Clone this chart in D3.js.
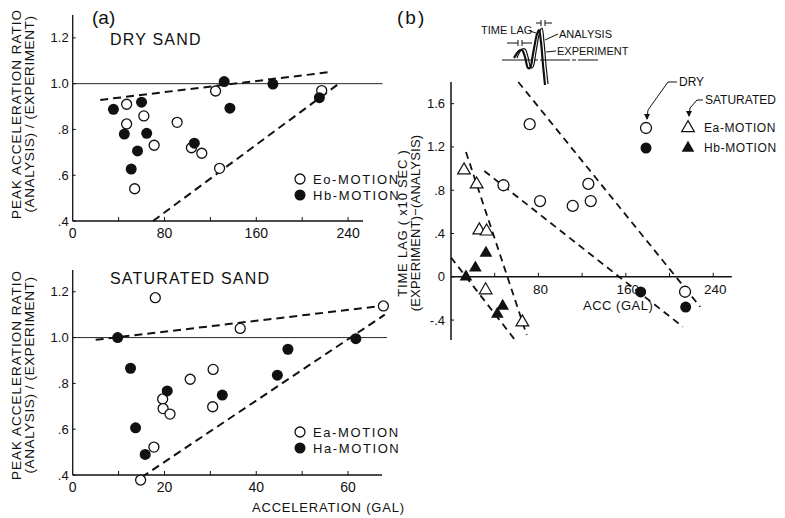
<!DOCTYPE html>
<html><head><meta charset="utf-8">
<script src="https://cdn.jsdelivr.net/npm/d3@7"></script>
<style>body{margin:0;background:#fff}svg{display:block}text{font-family:"Liberation Sans",Arial,sans-serif;fill:#111}</style>
</head><body>
<script>
// ---------- DATA ----------
// Panel (a) top: dry sand, acceleration (gal) vs peak acceleration ratio
const dryEa = [[47,0.91],[47,0.824],[62,0.859],[71,0.731],[54,0.541],[91,0.831],[103.5,0.72],[112.5,0.696],[124.5,0.968],[128,0.63],[217,0.97]];
const dryHb = [[35.5,0.888],[45,0.78],[60,0.919],[64.5,0.783],[56.5,0.706],[51,0.627],[106,0.74],[132,1.009],[137,0.893],[174.5,0.998],[215,0.939]];
const dryBounds = [[[24,0.929],[223,1.05]],[[70,0.4],[232,1.0]]];
const dryXTicks = [0,80,160,240];
const dryXMinor = [40,120,200];
// Panel (a) bottom: saturated sand
const satEa = [[18,1.174],[67.7,1.138],[36.5,1.04],[30.6,0.861],[25.6,0.818],[19.6,0.732],[19.7,0.69],[21.2,0.666],[30.5,0.698],[17.7,0.522],[14.8,0.378]];
const satHa = [[9.8,1.0],[12.6,0.866],[20.6,0.767],[32.6,0.749],[13.7,0.606],[15.8,0.49],[44.6,0.836],[46.9,0.949],[61.7,0.995]];
const satBounds = [[[5,0.99],[66,1.135]],[[15,0.39],[68,1.1]]];
const satXTicks = [0,20,40,60];
const satXMinor = [10,30,50];
const ratioTicks = [0.4,0.6,0.8,1.0,1.2];
const ratioLabels = [".4",".6",".8","1.0","1.2"];
// Panel (b): time lag vs acc
const lagDryEa = [[72,1.41],[48,0.846],[81.5,0.70],[111.4,0.655],[125.7,0.858],[127.9,0.70],[214.2,-0.138]];
const lagDryHb = [[173.6,-0.14],[214.8,-0.28]];
const lagSatEa = [[11.9,0.985],[23.5,0.855],[25.9,0.43],[32.6,0.42],[31.7,-0.123],[65.3,-0.42]];
const lagSatHb = [[32,0.22],[22.3,0.083],[13.7,0],[47.3,-0.27],[42.4,-0.344]];
const lagTrends = [[[61.6,1.80],[228,-0.277]],[[30.5,0.978],[212.1,-0.461]],[[13.7,1.153],[69.3,-0.538]],[[0,0.179],[58.6,-0.584]]];
const lagYTicks = [-0.4,0,0.4,0.8,1.2,1.6];
const lagYLabels = ["-.4","0",".4",".8","1.2","1.6"];
const lagXTicks = [80,160,240];
const lagXMinor = [40,120,200];
// Inset sketch (local units)
const waveExp = [[14,-2],[19,-9],[22,-10],[25,-3],[28,8],[30,8],[33,-6],[37,-26],[39,-30],[41,-18],[43,5],[45,25]];
const waveAna = [[17,-2],[22,-11],[25,-11],[28,-3],[31,8],[33,7],[36,-8],[40,-29],[42,-32],[44,-18],[46,5],[48,24]];

const W=785,H=518;
const svg=d3.select("body").append("svg").attr("width",W).attr("height",H);
const ink="#111";

function scatterPanel(o){
  const g=svg.append("g");
  const x=d3.scaleLinear().domain(o.xd).range(o.xr);
  const y=d3.scaleLinear().domain(o.yd).range(o.yr);
  g.append("line").attr("x1",x(o.xd[0])).attr("x2",x(o.xd[1])).attr("y1",y(o.yd[0])).attr("y2",y(o.yd[0])).attr("stroke",ink).attr("stroke-width",1.3);
  g.append("line").attr("x1",x(o.xd[0])).attr("x2",x(o.xd[0])).attr("y1",y(o.yd[0])).attr("y2",y(o.yd[1])).attr("stroke",ink).attr("stroke-width",1.3);
  g.append("line").attr("x1",x(o.xd[0])).attr("x2",x(o.refEnd)).attr("y1",y(1)).attr("y2",y(1)).attr("stroke",ink).attr("stroke-width",0.9);
  o.xTicks.concat(o.xMinor).forEach(t=>{ if(t===0) return;
    g.append("line").attr("x1",x(t)).attr("x2",x(t)).attr("y1",y(o.yd[0])).attr("y2",y(o.yd[0])-4).attr("stroke",ink).attr("stroke-width",1);});
  o.xTicks.forEach(t=>g.append("text").attr("x",x(t)).attr("y",y(o.yd[0])+17).attr("text-anchor","middle").attr("font-size",14).text(t));
  ratioTicks.forEach((t,i)=>{
    g.append("line").attr("x1",x(o.xd[0])).attr("x2",x(o.xd[0])+3).attr("y1",y(t)).attr("y2",y(t)).attr("stroke",ink);
    g.append("text").attr("x",x(o.xd[0])-4).attr("y",y(t)).attr("dy","0.35em").attr("text-anchor","end").attr("font-size",13).text(ratioLabels[i]);
  });
  const line=d3.line().x(d=>x(d[0])).y(d=>y(d[1]));
  o.bounds.forEach(b=>g.append("path").attr("d",line(b)).attr("fill","none").attr("stroke",ink).attr("stroke-width",2).attr("stroke-dasharray","8,5"));
  g.selectAll(null).data(o.open).join("circle").attr("cx",d=>x(d[0])).attr("cy",d=>y(d[1])).attr("r",5).attr("fill","#fff").attr("stroke",ink).attr("stroke-width",1.3);
  g.selectAll(null).data(o.filled).join("circle").attr("cx",d=>x(d[0])).attr("cy",d=>y(d[1])).attr("r",5.5).attr("fill",ink);
  g.append("circle").attr("cx",o.leg[0]).attr("cy",o.leg[1]).attr("r",5).attr("fill","#fff").attr("stroke",ink).attr("stroke-width",1.3);
  g.append("circle").attr("cx",o.leg[0]).attr("cy",o.leg[1]+16).attr("r",5.5).attr("fill",ink);
  g.append("text").attr("x",o.leg[0]+13).attr("y",o.leg[1]).attr("dy","0.35em").attr("font-size",13).attr("letter-spacing",1.6).text(o.legNames[0]);
  g.append("text").attr("x",o.leg[0]+13).attr("y",o.leg[1]+16).attr("dy","0.35em").attr("font-size",13).attr("letter-spacing",1.6).text(o.legNames[1]);
  g.append("text").attr("x",o.title[0]).attr("y",o.title[1]).attr("font-size",16).attr("letter-spacing",1.2).text(o.title[2]);
  const cy=o.ytitleY;
  g.append("text").attr("transform",`translate(21,${cy}) rotate(-90)`).attr("text-anchor","middle").attr("font-size",13.5).attr("letter-spacing",1).text("PEAK  ACCELERATION  RATIO");
  g.append("text").attr("transform",`translate(34,${cy}) rotate(-90)`).attr("text-anchor","middle").attr("font-size",13.5).attr("letter-spacing",0.6).text("(ANALYSIS) / (EXPERIMENT)");
  return {x,y};
}

scatterPanel({xd:[0,253],xr:[72.7,363],yd:[0.4,1.3],yr:[221,15],refEnd:270,xTicks:dryXTicks,xMinor:dryXMinor,
  bounds:dryBounds,open:dryEa,filled:dryHb,leg:[300,179],legNames:["Eo-MOTION","Hb-MOTION"],
  title:[110,45,"DRY  SAND"],ytitleY:114});
scatterPanel({xd:[0,67.4],xr:[72.7,382],yd:[0.4,1.295],yr:[475,270],refEnd:68.5,xTicks:satXTicks,xMinor:satXMinor,
  bounds:satBounds,open:satEa,filled:satHa,leg:[300,432],legNames:["Ea-MOTION","Ha-MOTION"],
  title:[110,284,"SATURATED  SAND"],ytitleY:375});
svg.append("text").attr("x",92).attr("y",24).attr("font-size",19).text("(a)");
svg.append("text").attr("x",252).attr("y",512).attr("font-size",13).attr("letter-spacing",0.8).text("ACCELERATION  (GAL)");

// ---------- Panel (b) ----------
(function(){
  const g=svg.append("g");
  const x=d3.scaleLinear().domain([0,257]).range([451,731.8]);
  const y=d3.scaleLinear().domain([-0.584,1.80]).range([340,82]);
  g.append("line").attr("x1",x(0)).attr("x2",x(257)).attr("y1",y(0)).attr("y2",y(0)).attr("stroke",ink).attr("stroke-width",1.5);
  g.append("line").attr("x1",x(0)).attr("x2",x(0)).attr("y1",y(-0.584)).attr("y2",y(1.80)).attr("stroke",ink).attr("stroke-width",1.5);
  lagXTicks.concat(lagXMinor).forEach(t=>g.append("line").attr("x1",x(t)).attr("x2",x(t)).attr("y1",y(0)).attr("y2",y(0)-4).attr("stroke",ink));
  lagXTicks.forEach(t=>g.append("text").attr("x",x(t)+2).attr("y",y(0)+17).attr("text-anchor","middle").attr("font-size",13.5).text(t));
  lagYTicks.forEach((t,i)=>{
    g.append("line").attr("x1",x(0)).attr("x2",x(0)+3).attr("y1",y(t)).attr("y2",y(t)).attr("stroke",ink);
    g.append("text").attr("x",x(0)-6).attr("y",y(t)).attr("dy","0.35em").attr("text-anchor","end").attr("font-size",13).text(lagYLabels[i]);
  });
  const line=d3.line().x(d=>x(d[0])).y(d=>y(d[1]));
  lagTrends.forEach(b=>g.append("path").attr("d",line(b)).attr("fill","none").attr("stroke",ink).attr("stroke-width",1.8).attr("stroke-dasharray","7,5"));
  const tri=d3.symbol().type(d3.symbolTriangle).size(70)();
  g.selectAll(null).data(lagDryEa).join("circle").attr("cx",d=>x(d[0])).attr("cy",d=>y(d[1])).attr("r",5.5).attr("fill","#fff").attr("stroke",ink).attr("stroke-width",1.3);
  g.selectAll(null).data(lagDryHb).join("circle").attr("cx",d=>x(d[0])).attr("cy",d=>y(d[1])).attr("r",5.5).attr("fill",ink);
  g.selectAll(null).data(lagSatEa).join("path").attr("d",tri).attr("transform",d=>`translate(${x(d[0])},${y(d[1])})`).attr("fill","#fff").attr("stroke",ink).attr("stroke-width",1.2);
  g.selectAll(null).data(lagSatHb).join("path").attr("d",tri).attr("transform",d=>`translate(${x(d[0])},${y(d[1])})`).attr("fill",ink);
  g.append("text").attr("x",583).attr("y",310).attr("font-size",13).attr("letter-spacing",0.5).text("ACC (GAL)");
  g.append("text").attr("transform","translate(407,223) rotate(-90)").attr("text-anchor","middle").attr("font-size",13).attr("letter-spacing",0.8).text("TIME LAG  ( x10  SEC )");
  g.append("text").attr("transform","translate(420,223) rotate(-90)").attr("text-anchor","middle").attr("font-size",13).attr("letter-spacing",0.2).text("(EXPERIMENT)\u2212(ANALYSIS)");
  g.append("text").attr("x",397).attr("y",24).attr("font-size",19).attr("letter-spacing",2).text("(b)");
  // legend
  g.append("circle").attr("cx",646).attr("cy",128).attr("r",5.5).attr("fill","#fff").attr("stroke",ink).attr("stroke-width",1.3);
  g.append("circle").attr("cx",646).attr("cy",148).attr("r",5.5).attr("fill",ink);
  g.append("path").attr("d",tri).attr("transform","translate(688,128)").attr("fill","#fff").attr("stroke",ink).attr("stroke-width",1.2);
  g.append("path").attr("d",tri).attr("transform","translate(688,148)").attr("fill",ink);
  g.append("text").attr("x",704).attr("y",128).attr("dy","0.35em").attr("font-size",12).attr("letter-spacing",0.6).text("Ea-MOTION");
  g.append("text").attr("x",704).attr("y",148).attr("dy","0.35em").attr("font-size",12).attr("letter-spacing",0.6).text("Hb-MOTION");
  g.append("text").attr("x",679).attr("y",82).attr("dy","0.35em").attr("font-size",12).text("DRY");
  g.append("text").attr("x",705).attr("y",100).attr("dy","0.35em").attr("font-size",12).text("SATURATED");
  g.append("path").attr("d","M677,82 L668,82 L648,110 L647,119").attr("fill","none").attr("stroke",ink).attr("stroke-width",1);
  g.append("path").attr("d","M644,114 L647,120 L650,114 Z").attr("fill",ink);
  g.append("path").attr("d","M703,100 L697,100 L690,108 L689,116").attr("fill","none").attr("stroke",ink).attr("stroke-width",1);
  g.append("path").attr("d","M686,111 L689,117 L692,111 Z").attr("fill",ink);
  // inset sketch
  const ix=d3.scaleLinear().domain([0,1]).range([500,501]);
  const iy=d3.scaleLinear().domain([0,1]).range([60,61]);
  const wl=d3.line().x(d=>ix(d[0])).y(d=>iy(d[1])).curve(d3.curveCatmullRom);
  g.append("line").attr("x1",ix(2)).attr("x2",ix(98)).attr("y1",iy(0)).attr("y2",iy(0)).attr("stroke",ink).attr("stroke-width",1).attr("stroke-dasharray","30,2,4,2");
  g.append("path").attr("d",wl(waveExp)).attr("fill","none").attr("stroke",ink).attr("stroke-width",2.2);
  g.append("path").attr("d",wl(waveAna)).attr("fill","none").attr("stroke",ink).attr("stroke-width",1.2);
  g.append("text").attr("x",481).attr("y",34).attr("font-size",11).text("TIME LAG");
  g.append("text").attr("x",559).attr("y",38).attr("font-size",11).text("ANALYSIS");
  g.append("text").attr("x",557).attr("y",55).attr("font-size",11).text("EXPERIMENT");
  const tk=(p)=>g.append("path").attr("d",p).attr("fill","none").attr("stroke",ink).attr("stroke-width",1);
  tk("M558,34 L545,40"); tk("M556,51 L546,52"); tk("M530,31 L536,33");
  tk("M507,43 L518,43 M518,40 L518,46 M522,40 L522,46 M522,43 L532,43");
  tk("M536,23 L541,23 M541,20 L541,26 M545,20 L545,26 M545,23 L552,23");
})();
</script>
</body></html>
